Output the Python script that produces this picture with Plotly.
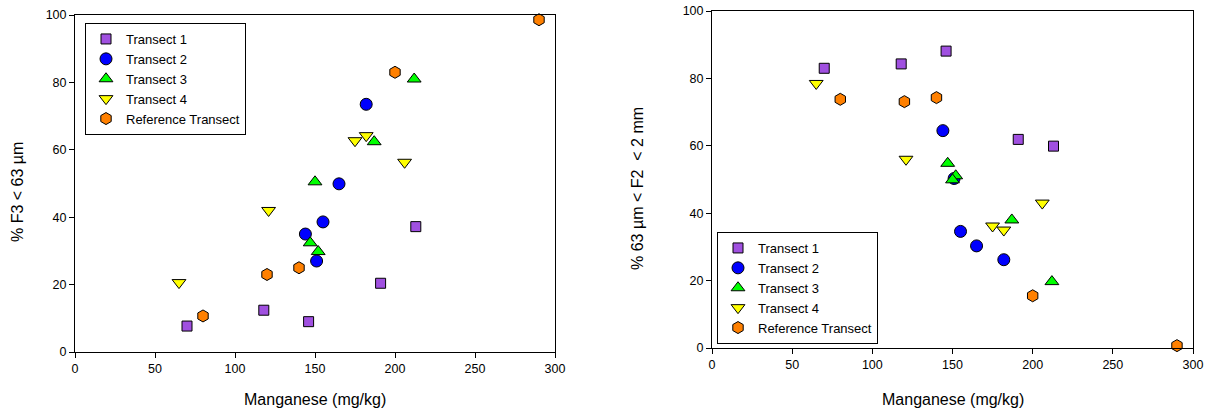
import plotly.graph_objects as go

# ---------------- data ----------------
series_names = ["Transect 1", "Transect 2", "Transect 3", "Transect 4", "Reference Transect"]

# Left chart: % F3 < 63 µm vs Manganese
left_t1_x = [70, 118, 146, 191, 213]
left_t1_y = [7.7, 12.4, 9.0, 20.4, 37.2]
left_t2_x = [144, 155, 151, 165, 182]
left_t2_y = [35.0, 38.6, 27.0, 49.9, 73.5]
left_t3_x = [147, 152, 150, 187, 212]
left_t3_y = [32.4, 29.8, 50.5, 62.4, 81.0]
left_t4_x = [65, 121, 175, 182, 206]
left_t4_y = [20.6, 42.0, 62.7, 64.2, 56.3]
left_ref_x = [80, 120, 140, 200, 290]
left_ref_y = [10.7, 23.0, 25.0, 83.0, 98.6]

# Right chart: % 63 µm < F2 < 2 mm vs Manganese
right_t1_x = [70, 118, 146, 191, 213]
right_t1_y = [83.0, 84.3, 88.1, 61.9, 59.9]
right_t2_x = [144, 151, 155, 165, 182]
right_t2_y = [64.5, 50.3, 34.6, 30.3, 26.2]
right_t3_x = [147, 152, 150, 187, 212]
right_t3_y = [54.8, 51.1, 49.9, 38.0, 19.7]
right_t4_x = [65, 121, 175, 182, 206]
right_t4_y = [78.5, 56.0, 36.2, 35.0, 43.0]
right_ref_x = [80, 120, 140, 200, 290]
right_ref_y = [73.8, 73.1, 74.3, 15.5, 0.7]

x_ticks = [0, 50, 100, 150, 200, 250, 300]
y_ticks = [0, 20, 40, 60, 80, 100]

# ---------------- styles ----------------
symbols = ["square", "circle", "triangle-up", "triangle-down", "hexagon"]
colors = ["#A050E0", "#0000FF", "#00FF00", "#FFFF00", "#FF8000"]
sizes = [10, 12, 12, 12, 12]

W, H = 1212, 412
FONT = "Liberation Sans, Arial, sans-serif"

fig = go.Figure()

left_data = [(left_t1_x, left_t1_y), (left_t2_x, left_t2_y), (left_t3_x, left_t3_y),
             (left_t4_x, left_t4_y), (left_ref_x, left_ref_y)]
right_data = [(right_t1_x, right_t1_y), (right_t2_x, right_t2_y), (right_t3_x, right_t3_y),
              (right_t4_x, right_t4_y), (right_ref_x, right_ref_y)]

for i, (xs, ys) in enumerate(left_data):
    fig.add_trace(go.Scatter(
        x=xs, y=ys, mode="markers", name=series_names[i],
        marker=dict(symbol=symbols[i], color=colors[i], size=sizes[i],
                    line=dict(color="black", width=1)),
        xaxis="x", yaxis="y", legend="legend", cliponaxis=False))

for i, (xs, ys) in enumerate(right_data):
    fig.add_trace(go.Scatter(
        x=xs, y=ys, mode="markers", name=series_names[i],
        marker=dict(symbol=symbols[i], color=colors[i], size=sizes[i],
                    line=dict(color="black", width=1)),
        xaxis="x2", yaxis="y2", legend="legend2", cliponaxis=False))

def px_x(p):
    return p / W

def px_y(p):
    return 1 - p / H

axis_common = dict(
    showgrid=False, zeroline=False, showline=True, linecolor="black", linewidth=1,
    mirror=True, ticks="outside", ticklen=5, tickcolor="black", tickwidth=1,
    tickfont=dict(family=FONT, size=12.5, color="black"), automargin=False,
    ticklabeloverflow="allow",
)

fig.update_layout(
    width=W, height=H,
    margin=dict(l=0, r=0, t=0, b=0),
    paper_bgcolor="white", plot_bgcolor="white",
    font=dict(family=FONT, color="black"),
    xaxis=dict(domain=[px_x(75), px_x(555)], range=[0, 300], tickvals=x_ticks,
               anchor="y", **axis_common),
    yaxis=dict(domain=[px_y(352), px_y(15)], range=[0, 100], tickvals=y_ticks,
               anchor="x", **axis_common),
    xaxis2=dict(domain=[px_x(712), px_x(1193)], range=[0, 300], tickvals=x_ticks,
                anchor="y2", **axis_common),
    yaxis2=dict(domain=[px_y(348), px_y(11)], range=[0, 100], tickvals=y_ticks,
                anchor="x2", **axis_common),
    legend=dict(x=px_x(85), y=px_y(23), xanchor="left", yanchor="top",
                bordercolor="black", borderwidth=1, bgcolor="white",
                font=dict(family=FONT, size=13, color="black")),
    legend2=dict(x=px_x(717), y=px_y(232), xanchor="left", yanchor="top",
                 bordercolor="black", borderwidth=1, bgcolor="white",
                 font=dict(family=FONT, size=13, color="black")),
    showlegend=True,
)

title_font = dict(family=FONT, size=16, color="black")
fig.add_annotation(text="Manganese (mg/kg)", x=px_x(315), y=px_y(399), xref="paper", yref="paper",
                   showarrow=False, font=title_font, xanchor="center", yanchor="middle")
fig.add_annotation(text="Manganese (mg/kg)", x=px_x(953), y=px_y(399), xref="paper", yref="paper",
                   showarrow=False, font=title_font, xanchor="center", yanchor="middle")
fig.add_annotation(text="% F3 < 63 µm", x=px_x(17), y=px_y(192), xref="paper", yref="paper",
                   showarrow=False, font=title_font, textangle=-90,
                   xanchor="center", yanchor="middle")
fig.add_annotation(text="% 63 µm < F2  < 2 mm", x=px_x(637), y=px_y(188), xref="paper", yref="paper",
                   showarrow=False, font=title_font, textangle=-90,
                   xanchor="center", yanchor="middle")

# remove the default 8px page margin so the figure sits at the window's corner
fig.write_html("out.html",
               config={"displayModeBar": False},
               post_script="document.body.style.margin='0px';document.body.style.overflow='hidden';")
